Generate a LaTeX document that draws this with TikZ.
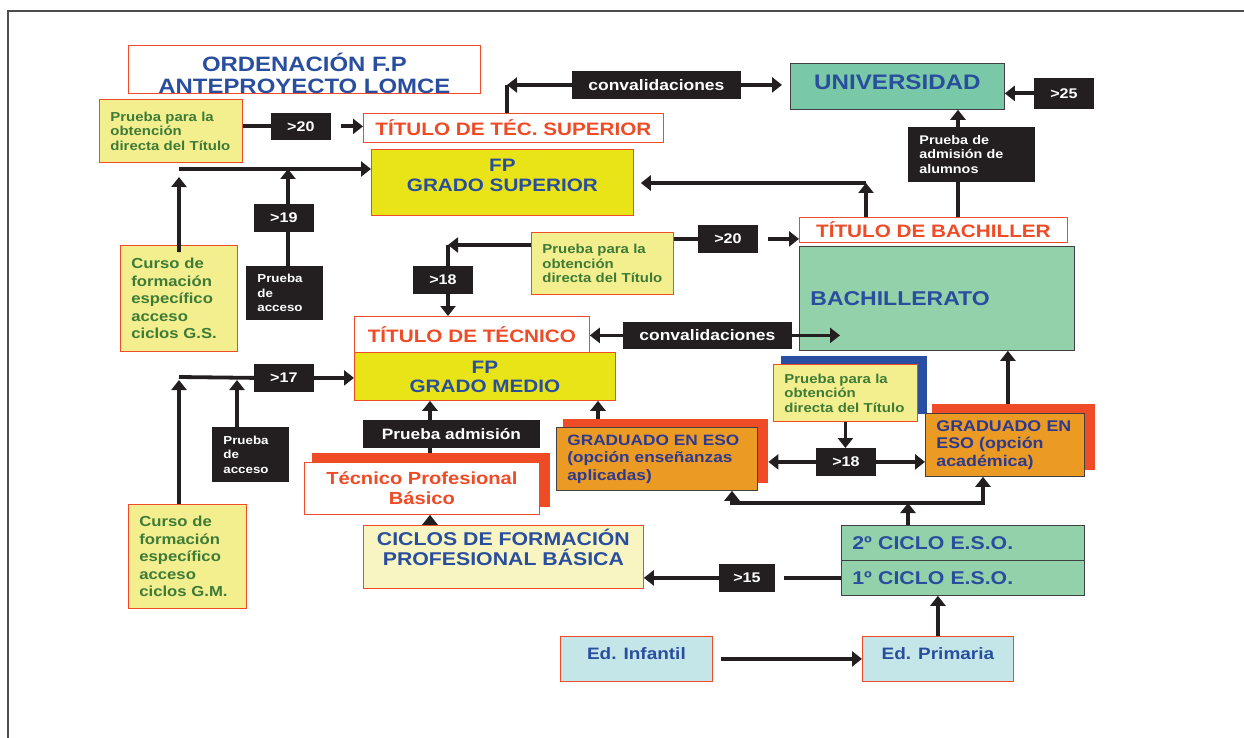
\documentclass[tikz,border=0pt]{standalone}
\usepackage{fontspec}
\setmainfont[FakeStretch=1.15]{Liberation Sans}
\usetikzlibrary{arrows.meta}

\definecolor{tblue}{HTML}{2A4E9E}
\definecolor{tred}{HTML}{EE4B26}
\definecolor{tgreen}{HTML}{3D7B37}
\definecolor{pyel}{HTML}{F3EE8E}
\definecolor{fpyel}{HTML}{E8E418}
\definecolor{ugreen}{HTML}{79C8A7}
\definecolor{bgreen}{HTML}{92D1AA}
\definecolor{eorange}{HTML}{EB9A24}
\definecolor{edark}{HTML}{2E3A8E}
\definecolor{cpale}{HTML}{F8F5C3}
\definecolor{icyan}{HTML}{C4E6E8}
\definecolor{bk}{HTML}{231F20}
\definecolor{sblue}{HTML}{2A4FA0}

\newcommand{\fsz}[2]{\bfseries\fontsize{#1}{#2}\selectfont}

\tikzstyle{box} = [draw=tred, line width=0.8pt, anchor=north west, inner sep=0pt, align=center]
\tikzstyle{blk} = [box, draw=bk, fill=bk, text=white, font=\fsz{14}{16}]
\tikzstyle{lft} = [align=left, inner xsep=11pt]
\tikzstyle{shd} = [anchor=north west, inner sep=0pt, fill=tred]
\tikzstyle{ln} = [line width=3.8pt, draw=bk]
\tikzstyle{arr} = [ln, -{Triangle[length=10pt,width=15pt]}]

\begin{document}
\begin{tikzpicture}[x=1pt, y=-1pt]

\useasboundingbox (0,0) rectangle (1244,738);
\draw[line width=1.5pt, black!70] (8,738) -- (8,11) -- (1244,11);

% cabecera
\node[box, fill=white, minimum width=352pt, minimum height=48pt, text height=48pt, text=tblue, font=\fsz{20.8}{22}] (orden) at (128,45) {ORDENACIÓN F.P\\ANTEPROYECTO LOMCE};

% grado superior
\node[box, fill=pyel, lft, text width=121pt, minimum height=63pt, text=tgreen, font=\fsz{13}{14.5}] (prueba1) at (99,99) {Prueba para la\\obtención\\directa del Título};
\node[blk, minimum width=59pt, minimum height=26pt] (may20a) at (271,113) {>20};
\node[box, fill=white, minimum width=300pt, minimum height=29pt, text=tred, font=\fsz{18}{20}] (tsup) at (363,113) {TÍTULO DE TÉC. SUPERIOR};
\node[box, fill=fpyel, minimum width=262pt, minimum height=66pt, text depth=14pt, text=tblue, font=\fsz{18}{20}] (fpgs) at (371,149) {FP\\GRADO SUPERIOR};
\node[blk, minimum width=168pt, minimum height=27pt, font=\fsz{15.2}{17}] (conv1) at (572,71) {convalidaciones};
\node[box, draw=black!75, fill=ugreen, minimum width=214pt, minimum height=46pt, text depth=8pt, text=tblue, font=\fsz{21}{24}] (univ) at (790,63) {UNIVERSIDAD};
\node[blk, minimum width=59pt, minimum height=30pt] (may25) at (1034,78) {>25};
\node[blk, lft, text width=104pt, minimum height=54pt, font=\fsz{12.5}{14.2}] (admis) at (908,127) {Prueba de\\admisión de\\alumnos};
\node[box, fill=pyel, lft, text width=95pt, minimum height=106pt, text=tgreen, font=\fsz{14.5}{17.5}] (cursogs) at (120,245) {Curso de\\formación\\específico\\acceso\\ciclos G.S.};
\node[blk, minimum width=59pt, minimum height=27pt] (may19) at (254,204) {>19};
\node[blk, lft, text width=54pt, minimum height=53pt, font=\fsz{11.6}{14.5}] (accgs) at (246,266) {Prueba\\de\\acceso};

% bachillerato
\node[box, fill=white, minimum width=268pt, minimum height=25pt, text=tred, font=\fsz{18}{20}] (tbach) at (799,217) {TÍTULO DE BACHILLER};
\node[box, draw=black!75, fill=bgreen, lft, text width=253pt, minimum height=104pt, text=tblue, font=\fsz{20}{22}] (bach) at (799,246) {BACHILLERATO};
\node[box, fill=pyel, lft, text width=120pt, minimum height=62pt, text=tgreen, font=\fsz{13}{14.5}] (prueba2) at (531,232) {Prueba para la\\obtención\\directa del Título};
\node[blk, minimum width=59pt, minimum height=27pt] (may20b) at (698,225) {>20};
\node[blk, minimum width=59pt, minimum height=27pt] (may18a) at (413,266) {>18};

% grado medio
\node[box, fill=white, minimum width=235pt, minimum height=36pt, text=tred, font=\fsz{18}{20}] (ttec) at (354,316) {TÍTULO DE TÉCNICO};
\node[box, fill=fpyel, minimum width=261pt, minimum height=48pt, text=tblue, font=\fsz{18}{19}] (fpgm) at (354,352) {FP\\GRADO MEDIO};
\node[blk, minimum width=168pt, minimum height=26pt, font=\fsz{15.2}{17}] (conv2) at (623,322) {convalidaciones};
\node[blk, minimum width=59pt, minimum height=27pt] (may17) at (254,364) {>17};
\node[blk, lft, text width=54pt, minimum height=54pt, font=\fsz{11.6}{14.5}] (accgm) at (212,427) {Prueba\\de\\acceso};
\node[box, fill=pyel, lft, text width=96pt, minimum height=104pt, text=tgreen, font=\fsz{14.5}{17.5}] (cursogm) at (128,504) {Curso de\\formación\\específico\\acceso\\ciclos G.M.};

% graduado en ESO
\node[shd, fill=sblue, minimum width=146pt, minimum height=58pt] (sp3) at (781,356) {};
\node[box, fill=pyel, lft, text width=122pt, minimum height=57pt, text=tgreen, font=\fsz{13}{14.5}] (prueba3) at (773,364) {Prueba para la\\obtención\\directa del Título};
\node[blk, minimum width=59pt, minimum height=27pt] (may18b) at (816,448) {>18};
\node[shd, minimum width=163pt, minimum height=66pt] (sacad) at (932,404) {};
\node[box, draw=black!75, fill=eorange, lft, text width=137pt, minimum height=63pt, text=edark, font=\fsz{15.5}{17.5}] (esoacad) at (925,413) {GRADUADO EN\\ESO (opción\\académica)};
\node[shd, minimum width=205pt, minimum height=64pt] (sapl) at (563,419) {};
\node[box, draw=black!75, fill=eorange, lft, text width=179pt, minimum height=63pt, text=edark, font=\fsz{15}{17.5}] (esoapl) at (556,427) {GRADUADO EN ESO\\(opción enseñanzas\\aplicadas)};

% formacion profesional basica
\node[blk, minimum width=176pt, minimum height=27pt, font=\fsz{15}{17}] (admgm) at (363,420) {Prueba admisión};
\node[shd, minimum width=238pt, minimum height=54pt] (stpb) at (312,453) {};
\node[box, fill=white, minimum width=235pt, minimum height=52pt, text=tred, font=\fsz{17.5}{19.5}] (tpb) at (304,462) {Técnico Profesional\\Básico};
\node[box, fill=cpale, minimum width=280pt, minimum height=63pt, text depth=20pt, text=tblue, font=\fsz{18.5}{20}] (ciclos) at (363,525) {CICLOS DE FORMACIÓN\\PROFESIONAL BÁSICA};
\node[blk, minimum width=55pt, minimum height=27pt] (may15) at (719,564) {>15};

% ESO, primaria, infantil
\node[box, draw=black!75, fill=bgreen, lft, text width=221pt, minimum height=35pt, text=tblue, font=\fsz{18.5}{20}] (eso2) at (841,525) {2º CICLO E.S.O.};
\node[box, draw=black!75, fill=bgreen, lft, text width=221pt, minimum height=35pt, text=tblue, font=\fsz{18.5}{20}] (eso1) at (841,560) {1º CICLO E.S.O.};
\node[box, fill=icyan, minimum width=152pt, minimum height=45pt, text depth=10pt, text=tblue, font=\fsz{16.5}{18}] (infan) at (560,636) {Ed. Infantil};
\node[box, fill=icyan, minimum width=151pt, minimum height=45pt, text depth=10pt, text=tblue, font=\fsz{16.5}{18}] (prima) at (862,636) {Ed. Primaria};

\coordinate (gs) at (179,169);
\coordinate (gs2) at (288,169);
\coordinate (gm) at (179,377);
\coordinate (gm2) at (237,377);
\coordinate (cv) at (507,85);
\coordinate (gsr) at (866,183);
\coordinate (c18) at (448,245);
\coordinate (xadm) at (430,420);
\coordinate (xapl) at (598,419);
\coordinate (xbach) at (958,217);
\coordinate (lj) at (908,503);

% conexiones
\draw[ln] (prueba1.east |- may20a.west) -- (may20a.west);
\draw[arr] ([xshift=10pt]may20a.east) -- (tsup.west |- may20a.east);
\draw[arr] (conv1.west) -- (cv);
\draw[ln] (cv) -- (cv |- tsup.north);
\draw[arr] (conv1.east) -- ([xshift=-8pt]univ.west |- conv1.east);
\draw[arr] (may25.west) -- (univ.east |- may25.west);
\draw[ln] (xbach |- tbach.north) -- (xbach |- admis.south);
\draw[arr] (xbach |- admis.north) -- (xbach |- univ.south);
\draw[arr] (gsr |- tbach.north) -- (gsr);
\draw[arr] (gsr) -- ([xshift=7pt]fpgs.east |- gsr);
\draw[arr] (gs) -- (gs -| fpgs.west);
\draw[arr] ([yshift=-7pt]cursogs.north) -- ([yshift=-8pt]gs);
\draw[ln] (gs2 |- accgs.north) -- (gs2 |- may19.south);
\draw[arr] (gs2 |- may19.north) -- (gs2);

\draw[arr] (prueba2.west |- c18) -- (c18);
\draw[ln] (c18) -- (c18 |- may18a.north);
\draw[arr] (c18 |- may18a.south) -- (c18 |- ttec.north);
\draw[ln] (prueba2.east |- may20b.west) -- (may20b.west);
\draw[arr] ([xshift=10pt]may20b.east) -- (tbach.west |- may20b.east);
\draw[arr] (conv2.west) -- (ttec.east |- conv2.west);
\draw[arr] (conv2.east) -- ([xshift=41pt]bach.west |- conv2.east);

\draw[arr] (prueba3.south) -- (prueba3.south |- may18b.north);
\draw[arr] (may18b.west) -- (sapl.east |- may18b.west);
\draw[arr] (may18b.east) -- (esoacad.west |- may18b.east);
\draw[arr] ([xshift=3pt]esoacad.north |- sacad.north) -- ([xshift=3pt]esoacad.north |- bach.south);
\draw[arr] (xapl) -- (xapl |- fpgm.south);
\draw[ln] (xadm |- stpb.north) -- (xadm |- admgm.south);
\draw[arr] (xadm |- admgm.north) -- (xadm |- fpgm.south);
\draw[arr] (xadm |- ciclos.north) -- (xadm |- tpb.south);

\draw[arr] (lj |- eso2.north) -- (lj);
\draw[arr] (lj) -| ([xshift=58pt]esoacad.south west);
\draw[arr] (lj) -| ([xshift=176pt]esoapl.south west);
\draw[ln] (eso1.west) -- ([xshift=9pt]may15.east |- eso1.west);
\draw[arr] (may15.west) -- (ciclos.east |- may15.west);
\draw[arr] (prima.north) -- (prima.north |- eso1.south);
\draw[arr] ([xshift=8pt]infan.east) -- (prima.west);

\draw[ln] (gm) -- (may17.west);
\draw[arr] (may17.east) -- (fpgm.west |- may17.east);
\draw[arr] (gm |- cursogm.north) -- ([yshift=-3pt]gm);
\draw[arr] (gm2 |- accgm.north) -- ([yshift=-3pt]gm2);

\end{tikzpicture}
\end{document}
